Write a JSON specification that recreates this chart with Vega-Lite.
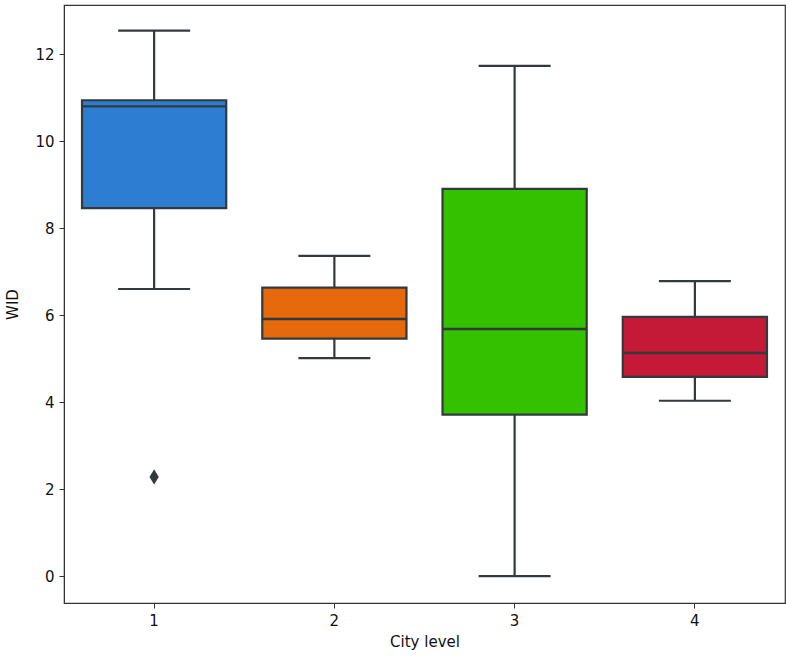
{
  "$schema": "https://vega.github.io/schema/vega-lite/v6.json",
  "width": 721,
  "height": 598,
  "autosize": {"type": "none"},
  "padding": {"left": 64, "top": 5, "right": 1, "bottom": 58},
  "background": "white",
  "config": {
    "view": {"stroke": "#333333", "strokeWidth": 1.2},
    "font": "DejaVu Sans",
    "axis": {
      "grid": false,
      "labelFont": "DejaVu Sans",
      "titleFont": "DejaVu Sans",
      "labelFontSize": 15,
      "titleFontSize": 15,
      "titleFontWeight": "normal",
      "labelColor": "#111111",
      "titleColor": "#111111",
      "tickColor": "#333333",
      "domainColor": "#333333",
      "tickSize": 5,
      "labelPadding": 5
    }
  },
  "datasets": {
    "boxes": [
      {"level": "1", "lower": 6.6, "q1": 8.46, "median": 10.8, "q3": 10.94, "upper": 12.54},
      {"level": "2", "lower": 5.01, "q1": 5.46, "median": 5.91, "q3": 6.63, "upper": 7.36},
      {"level": "3", "lower": 0.0, "q1": 3.71, "median": 5.68, "q3": 8.9, "upper": 11.73},
      {"level": "4", "lower": 4.03, "q1": 4.58, "median": 5.13, "q3": 5.96, "upper": 6.78}
    ],
    "outliers": [
      {"level": "1", "value": 2.28}
    ]
  },
  "data": {"name": "boxes"},
  "encoding": {
    "x": {
      "field": "level",
      "type": "nominal",
      "sort": ["1", "2", "3", "4"],
      "scale": {"paddingInner": 0, "paddingOuter": 0},
      "axis": {"title": "City level", "labelAngle": 0, "titlePadding": 6}
    }
  },
  "layer": [
    {
      "mark": {"type": "rule", "color": "#333a3d", "strokeWidth": 2.2},
      "encoding": {
        "y": {"field": "lower", "type": "quantitative", "scale": {"domain": [-0.62, 13.13], "nice": false, "zero": false}, "axis": {"title": "WID", "values": [0, 2, 4, 6, 8, 10, 12], "titlePadding": 14}},
        "y2": {"field": "upper"}
      }
    },
    {
      "mark": {"type": "tick", "color": "#333a3d", "opacity": 1, "thickness": 2.2, "size": 72, "orient": "horizontal"},
      "encoding": {"y": {"field": "upper", "type": "quantitative"}}
    },
    {
      "mark": {"type": "tick", "color": "#333a3d", "opacity": 1, "thickness": 2.2, "size": 72, "orient": "horizontal"},
      "encoding": {"y": {"field": "lower", "type": "quantitative"}}
    },
    {
      "mark": {"type": "bar", "width": {"band": 0.8}, "stroke": "#333a3d", "strokeWidth": 2.2},
      "encoding": {
        "y": {"field": "q1", "type": "quantitative"},
        "y2": {"field": "q3"},
        "color": {
          "field": "level",
          "type": "nominal",
          "scale": {"domain": ["1", "2", "3", "4"], "range": ["#2d7dd2", "#e66a0c", "#33c100", "#c41a37"]},
          "legend": null
        }
      }
    },
    {
      "mark": {"type": "tick", "color": "#333a3d", "opacity": 1, "thickness": 2.4, "size": 144, "orient": "horizontal"},
      "encoding": {"y": {"field": "median", "type": "quantitative"}}
    },
    {
      "data": {"name": "outliers"},
      "mark": {"type": "point", "shape": "M0,-1L0.6,0L0,1L-0.6,0Z", "filled": true, "color": "#333a3d", "opacity": 1, "size": 240},
      "encoding": {"y": {"field": "value", "type": "quantitative"}}
    }
  ],
  "resolve": {"scale": {"y": "shared"}}
}
